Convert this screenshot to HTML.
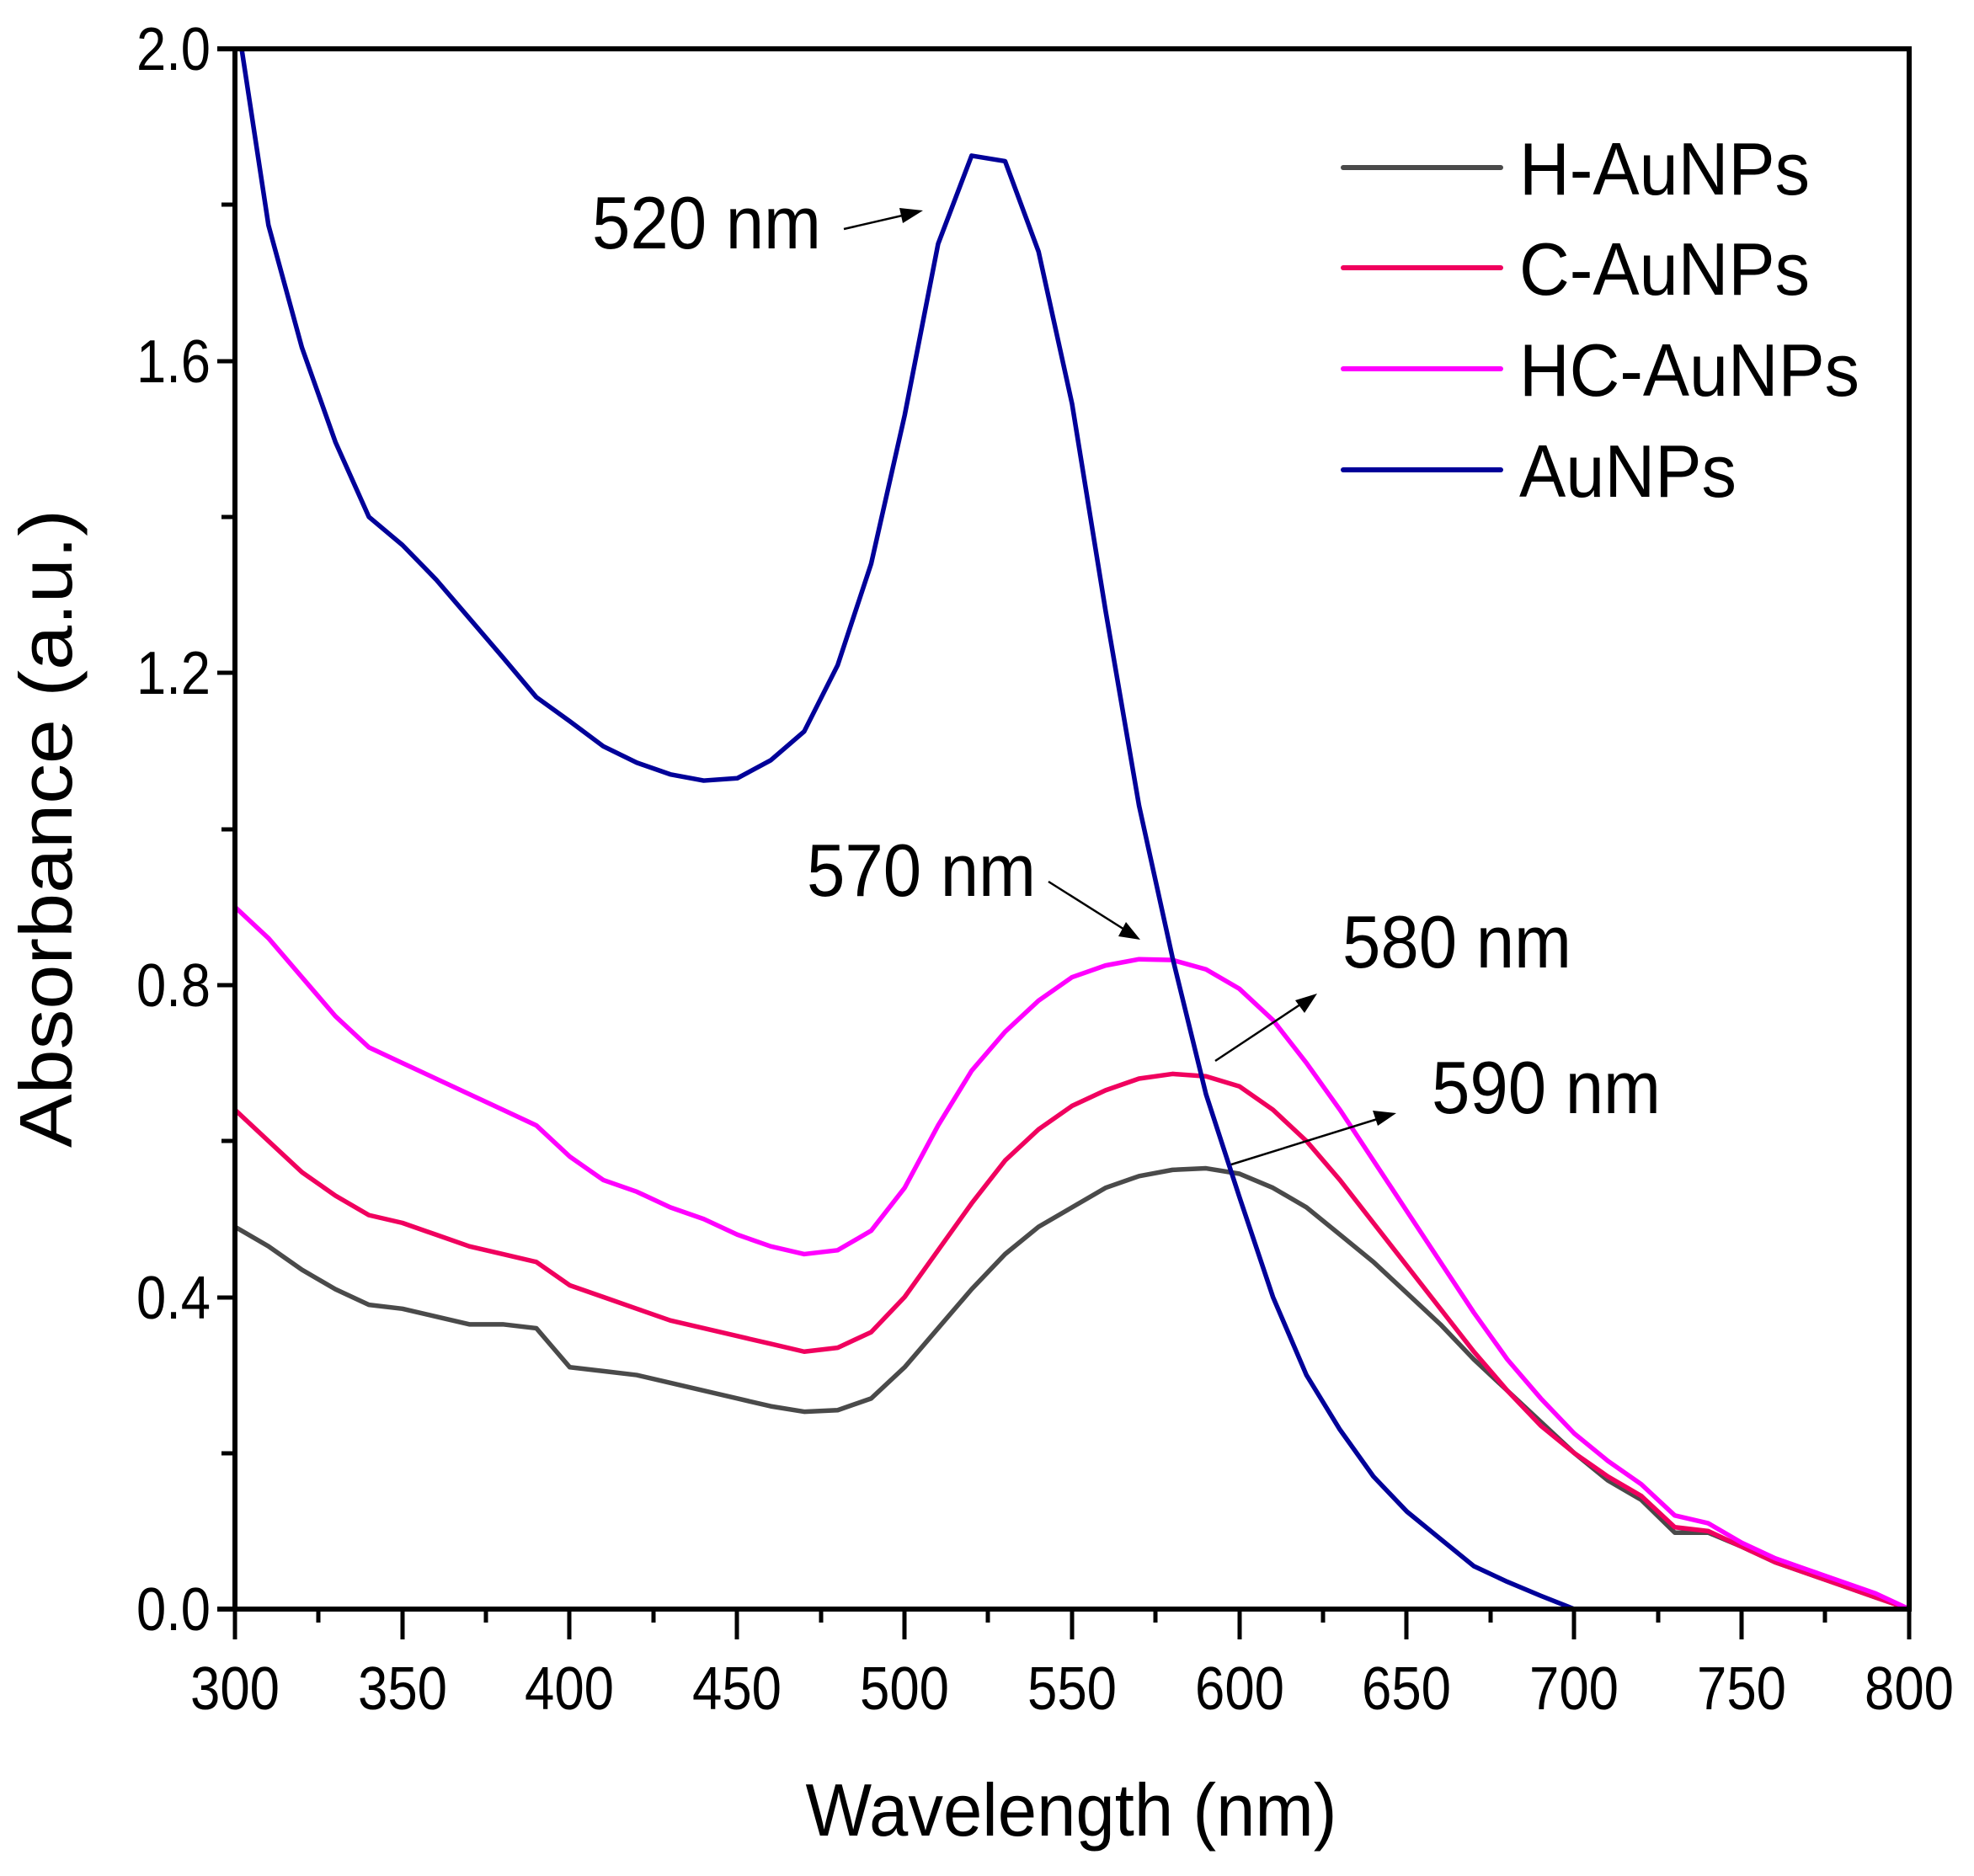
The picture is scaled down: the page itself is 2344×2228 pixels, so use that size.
<!DOCTYPE html>
<html><head><meta charset="utf-8"><style>
html,body{margin:0;padding:0;background:#fff}
svg{display:block}
text{font-family:"Liberation Sans",Arial,sans-serif;fill:#000}
</style></head><body>
<svg width="2344" height="2228" viewBox="0 0 2344 2228" xmlns="http://www.w3.org/2000/svg">
<g transform="translate(279,1911) scale(3.976,-926.5) translate(-300,0)" fill="none" stroke-linejoin="round">
<polyline vector-effect="non-scaling-stroke" stroke-width="5.5" stroke="#4a4a4a" points="300,0.49 310,0.465 320,0.435 330,0.41 340,0.39 350,0.385 360,0.375 370,0.365 380,0.365 390,0.36 395,0.335 400,0.31 410,0.305 420,0.3 430,0.29 440,0.28 450,0.27 460,0.26 470,0.253 480,0.255 490,0.27 500,0.31 510,0.36 520,0.41 530,0.455 540,0.49 550,0.515 560,0.54 570,0.555 580,0.563 590,0.565 600,0.558 610,0.54 620,0.515 630,0.48 640,0.445 650,0.405 660,0.365 670,0.32 680,0.28 690,0.24 700,0.2 710,0.165 720,0.14 730,0.098 740,0.098 750,0.08 760,0.06 770,0.045 780,0.03 790,0.015 800,0"/>
<polyline vector-effect="non-scaling-stroke" stroke-width="5.5" stroke="#f0005e" points="300,0.64 310,0.6 320,0.56 330,0.53 340,0.505 350,0.495 360,0.48 370,0.465 380,0.455 390,0.445 400,0.415 410,0.4 420,0.385 430,0.37 440,0.36 450,0.35 460,0.34 470,0.33 480,0.335 490,0.355 500,0.4 510,0.46 520,0.52 530,0.575 540,0.615 550,0.645 560,0.665 570,0.68 580,0.686 590,0.683 600,0.67 610,0.64 620,0.6 630,0.55 640,0.495 650,0.44 660,0.385 670,0.33 680,0.28 690,0.235 700,0.2 710,0.17 720,0.145 730,0.105 740,0.1 750,0.08 760,0.06 770,0.045 780,0.03 790,0.015 800,0"/>
<polyline vector-effect="non-scaling-stroke" stroke-width="5.5" stroke="#ff00ff" points="300,0.9 310,0.86 320,0.81 330,0.76 340,0.72 350,0.7 360,0.68 370,0.66 380,0.64 390,0.62 400,0.58 410,0.55 420,0.535 430,0.515 440,0.5 450,0.48 460,0.465 470,0.455 480,0.46 490,0.485 500,0.54 510,0.62 520,0.69 530,0.74 540,0.78 550,0.81 560,0.825 570,0.833 580,0.832 590,0.82 600,0.795 610,0.755 620,0.7 630,0.64 640,0.575 650,0.51 660,0.445 670,0.38 680,0.32 690,0.27 700,0.225 710,0.19 720,0.16 730,0.12 740,0.11 750,0.085 760,0.065 770,0.05 780,0.035 790,0.02 800,0"/>
<polyline vector-effect="non-scaling-stroke" stroke-width="5.5" stroke="#000099" points="302,2.0 310,1.774 320,1.617 330,1.496 340,1.4 350,1.364 360,1.32 370,1.27 380,1.22 390,1.169 400,1.138 410,1.106 420,1.085 430,1.07 440,1.062 450,1.065 460,1.088 470,1.125 480,1.21 490,1.34 500,1.53 510,1.75 520,1.863 530,1.856 540,1.74 550,1.545 560,1.28 570,1.03 580,0.835 590,0.66 600,0.528 610,0.4 620,0.3 630,0.23 640,0.17 650,0.125 660,0.09 670,0.055 680,0.035 690,0.017 700,0"/>
</g>
<g stroke="#000" fill="none">
<rect x="279" y="58" width="1988" height="1853" stroke-width="6"/>
<line x1="258" y1="1911" x2="279" y2="1911" stroke-width="6"/>
<line x1="258" y1="58" x2="279" y2="58" stroke-width="6"/>
</g>
<g stroke="#000" stroke-width="5">
<line x1="279" y1="1911" x2="279" y2="1947"/><line x1="378" y1="1911" x2="378" y2="1927"/>
<line x1="478" y1="1911" x2="478" y2="1947"/><line x1="577" y1="1911" x2="577" y2="1927"/>
<line x1="676" y1="1911" x2="676" y2="1947"/><line x1="776" y1="1911" x2="776" y2="1927"/>
<line x1="875" y1="1911" x2="875" y2="1947"/><line x1="975" y1="1911" x2="975" y2="1927"/>
<line x1="1074" y1="1911" x2="1074" y2="1947"/><line x1="1173" y1="1911" x2="1173" y2="1927"/>
<line x1="1273" y1="1911" x2="1273" y2="1947"/><line x1="1372" y1="1911" x2="1372" y2="1927"/>
<line x1="1472" y1="1911" x2="1472" y2="1947"/><line x1="1571" y1="1911" x2="1571" y2="1927"/>
<line x1="1670" y1="1911" x2="1670" y2="1947"/><line x1="1770" y1="1911" x2="1770" y2="1927"/>
<line x1="1869" y1="1911" x2="1869" y2="1947"/><line x1="1969" y1="1911" x2="1969" y2="1927"/>
<line x1="2068" y1="1911" x2="2068" y2="1947"/><line x1="2167" y1="1911" x2="2167" y2="1927"/>
<line x1="2267" y1="1911" x2="2267" y2="1947"/>
<line x1="258" y1="1541" x2="279" y2="1541"/><line x1="258" y1="1170" x2="279" y2="1170"/>
<line x1="258" y1="799" x2="279" y2="799"/><line x1="258" y1="429" x2="279" y2="429"/>
<line x1="263" y1="1726" x2="279" y2="1726"/><line x1="263" y1="1355" x2="279" y2="1355"/>
<line x1="263" y1="985" x2="279" y2="985"/><line x1="263" y1="614" x2="279" y2="614"/>
<line x1="263" y1="243" x2="279" y2="243"/>
</g>
<g font-size="72" text-anchor="middle" lengthAdjust="spacingAndGlyphs">
<text x="279" y="2030" textLength="106" lengthAdjust="spacingAndGlyphs">300</text><text x="478" y="2030" textLength="106" lengthAdjust="spacingAndGlyphs">350</text><text x="676" y="2030" textLength="106" lengthAdjust="spacingAndGlyphs">400</text>
<text x="875" y="2030" textLength="106" lengthAdjust="spacingAndGlyphs">450</text><text x="1074" y="2030" textLength="106" lengthAdjust="spacingAndGlyphs">500</text><text x="1273" y="2030" textLength="106" lengthAdjust="spacingAndGlyphs">550</text>
<text x="1472" y="2030" textLength="106" lengthAdjust="spacingAndGlyphs">600</text><text x="1670" y="2030" textLength="106" lengthAdjust="spacingAndGlyphs">650</text><text x="1869" y="2030" textLength="106" lengthAdjust="spacingAndGlyphs">700</text>
<text x="2068" y="2030" textLength="106" lengthAdjust="spacingAndGlyphs">750</text><text x="2267" y="2030" textLength="106" lengthAdjust="spacingAndGlyphs">800</text>
</g>
<g font-size="72" text-anchor="end">
<text x="250" y="1936" textLength="88" lengthAdjust="spacingAndGlyphs">0.0</text><text x="250" y="1566" textLength="88" lengthAdjust="spacingAndGlyphs">0.4</text><text x="250" y="1195" textLength="88" lengthAdjust="spacingAndGlyphs">0.8</text>
<text x="250" y="824" textLength="88" lengthAdjust="spacingAndGlyphs">1.2</text><text x="250" y="454" textLength="88" lengthAdjust="spacingAndGlyphs">1.6</text><text x="250" y="83" textLength="88" lengthAdjust="spacingAndGlyphs">2.0</text>
</g>
<text x="1272" y="2180" font-size="88" text-anchor="middle" textLength="631" lengthAdjust="spacingAndGlyphs">Wavelength (nm)</text>
<text transform="translate(85,984) rotate(-90)" font-size="88" text-anchor="middle" textLength="758" lengthAdjust="spacingAndGlyphs">Absorbance (a.u.)</text>
<g stroke-width="6" stroke-linecap="round">
<line x1="1595" y1="199" x2="1782" y2="199" stroke="#4a4a4a"/>
<line x1="1595" y1="318" x2="1782" y2="318" stroke="#f0005e"/>
<line x1="1595" y1="438" x2="1782" y2="438" stroke="#ff00ff"/>
<line x1="1595" y1="558" x2="1782" y2="558" stroke="#000099"/>
</g>
<g font-size="88">
<text x="1804" y="231" textLength="345" lengthAdjust="spacingAndGlyphs">H-AuNPs</text><text x="1804" y="350" textLength="345" lengthAdjust="spacingAndGlyphs">C-AuNPs</text>
<text x="1804" y="470" textLength="404" lengthAdjust="spacingAndGlyphs">HC-AuNPs</text><text x="1804" y="590" textLength="258" lengthAdjust="spacingAndGlyphs">AuNPs</text>
</g>
<g font-size="88">
<text x="703" y="295" textLength="272" lengthAdjust="spacingAndGlyphs">520 nm</text><text x="958" y="1064" textLength="272" lengthAdjust="spacingAndGlyphs">570 nm</text>
<text x="1594" y="1149" textLength="272" lengthAdjust="spacingAndGlyphs">580 nm</text><text x="1700" y="1322" textLength="272" lengthAdjust="spacingAndGlyphs">590 nm</text>
</g>
<g stroke="#000" stroke-width="2.5">
<line x1="1002" y1="272" x2="1080" y2="254"/>
<line x1="1245" y1="1047" x2="1340" y2="1107"/>
<line x1="1443" y1="1260" x2="1550" y2="1189"/>
<line x1="1462" y1="1383" x2="1642" y2="1327"/>
</g>
<g fill="#000">
<polygon points="1096,250 1068,247 1072,265"/>
<polygon points="1354,1116 1337,1095 1328,1112"/>
<polygon points="1564,1180 1538,1188 1549,1203"/>
<polygon points="1658,1322 1630,1319 1636,1337"/>
</g>
</svg>
</body></html>
